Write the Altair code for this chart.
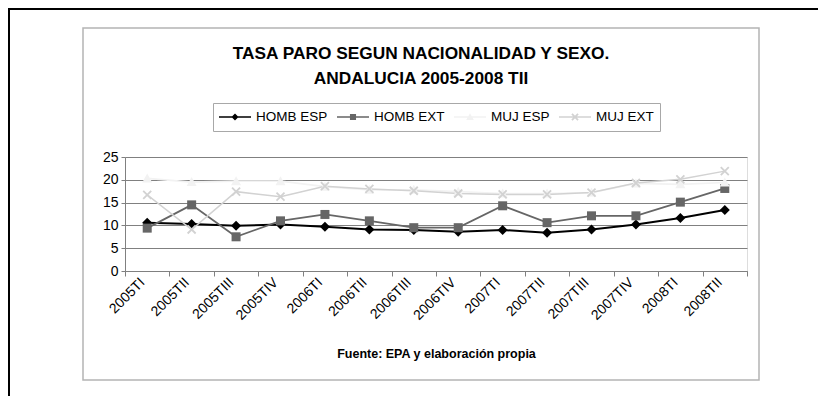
import altair as alt
import pandas as pd

# ---------------- data ----------------
periodos = ["2005TI", "2005TII", "2005TIII", "2005TIV",
            "2006TI", "2006TII", "2006TIII", "2006TIV",
            "2007TI", "2007TII", "2007TIII", "2007TIV",
            "2008TI", "2008TII"]
series = ["HOMB ESP", "HOMB EXT", "MUJ ESP", "MUJ EXT"]

homb_esp = [10.6, 10.3, 9.9, 10.2, 9.7, 9.1, 9.0, 8.6, 9.0, 8.4, 9.1, 10.2, 11.6, 13.4]
homb_ext = [9.4, 14.5, 7.5, 11.0, 12.4, 11.0, 9.5, 9.5, 14.3, 10.6, 12.1, 12.1, 15.1, 18.1]
muj_esp = [20.3, 19.5, 19.7, 19.7, 18.5, 17.8, 17.8, 17.4, 17.0, 17.0, 17.2, 19.2, 19.0, 19.4]
muj_ext = [16.7, 9.1, 17.4, 16.3, 18.6, 18.0, 17.6, 17.0, 16.8, 16.8, 17.2, 19.3, 20.1, 21.9]

y_ticks = [0, 5, 10, 15, 20, 25]

titulo = ["TASA PARO SEGUN NACIONALIDAD Y SEXO.", "ANDALUCIA 2005-2008 TII"]
fuente = "Fuente: EPA y elaboración propia"

# ---------------- styles ----------------
colores = ["#000000", "#666666", "#f2f2f2", "#d2d2d2"]
anchos = [2, 1.5, 2, 1.5]
FONT = "Liberation Sans"

# marker paths (filled polygons)
marker_paths = [
    "M0,-1L1,0L0,1L-1,0Z",
    "M-0.9,-0.9H0.9V0.9H-0.9Z",
    "M0,-1L1,0.8H-1Z",
    "M-0.67,-0.93L0.93,0.67L0.67,0.93L-0.93,-0.67Z"
    "M0.93,-0.67L-0.67,0.93L-0.93,0.67L0.67,-0.93Z",
]
line_seg = "M-1,-0.05H1V0.05H-1Z"
legend_paths = [
    line_seg + "M0,-0.22L0.22,0L0,0.22L-0.22,0Z",
    line_seg + "M-0.19,-0.19H0.19V0.19H-0.19Z",
    line_seg + "M0,-0.24L0.24,0.18H-0.24Z",
    line_seg + "M-0.15,-0.23L0.23,0.15L0.15,0.23L-0.23,-0.15Z"
               "M0.23,-0.15L-0.15,0.23L-0.23,0.15L0.15,-0.23Z",
]

rows = []
for s, vals in zip(series, [homb_esp, homb_ext, muj_esp, muj_ext]):
    for p, v in zip(periodos, vals):
        rows.append({"periodo": p, "serie": s, "valor": v})
df = pd.DataFrame(rows)

x_enc = alt.X(
    "periodo:N", sort=periodos, bandPosition=0.5,
    scale=alt.Scale(type="band", paddingInner=0, paddingOuter=0),
    axis=alt.Axis(
        title=fuente, labelAngle=-45, labelAlign="right", labelBaseline="middle",
        labelFont=FONT, labelFontSize=14, labelColor="black", labelPadding=4,
        labelOffset=-5,
        labelOverlap=False, tickBand="extent", tickSize=5, tickColor="#808080",
        domainColor="#808080", titleFont=FONT, titleFontSize=12.5,
        titleFontWeight="bold", titleColor="black", titleY=86,
        titleBaseline="alphabetic",
    ),
)
y_enc = alt.Y(
    "valor:Q",
    scale=alt.Scale(domain=[0, 25], nice=False),
    axis=alt.Axis(
        title=None, values=y_ticks, labelFont=FONT, labelFontSize=14,
        labelColor="black", gridColor="#808080", gridWidth=1, tickSize=4,
        tickColor="#808080", domainColor="#808080", labelPadding=3,
    ),
)

color_scale = alt.Scale(domain=series, range=colores)

lines = alt.Chart(df).mark_line().encode(
    x=x_enc, y=y_enc,
    color=alt.Color("serie:N", scale=color_scale, legend=None),
    strokeWidth=alt.StrokeWidth("serie:N", scale=alt.Scale(domain=series, range=anchos), legend=None),
)

points = alt.Chart(df).mark_point(filled=True, size=100, opacity=1).encode(
    x=x_enc, y=y_enc,
    color=alt.Color("serie:N", scale=color_scale, legend=None),
    shape=alt.Shape("serie:N", scale=alt.Scale(domain=series, range=marker_paths), legend=None),
)

leg = dict(
    title=None, orient="none", legendX=88, legendY=-54, direction="horizontal",
    symbolSize=1024, symbolOpacity=1, symbolStrokeWidth=0, clipHeight=16,
    labelFont=FONT, labelFontSize=13.5, labelColor="black", labelOffset=5,
    columnPadding=9, padding=6, strokeColor="#a8a8a8", fillColor="white",
    labelLimit=200,
)
legend_layer = alt.Chart(df).mark_point(filled=True, size=1024, opacity=0).encode(
    x=x_enc, y=y_enc,
    color=alt.Color("serie:N", scale=color_scale, legend=alt.Legend(**leg)),
    shape=alt.Shape("serie:N", scale=alt.Scale(domain=series, range=legend_paths),
                    legend=alt.Legend(**leg)),
)

frame_df = pd.DataFrame({"k": [0]})
inner_box = alt.Chart(frame_df).mark_rect(fillOpacity=0, stroke="#b4b4b4", strokeWidth=1.5).encode(
    x=alt.value(-42), x2=alt.value(634), y=alt.value(-129), y2=alt.value(223)
)
outer_v = alt.Chart(frame_df).mark_rule(color="black", strokeWidth=2).encode(
    x=alt.value(-116), y=alt.value(-149), y2=alt.value(239)
)
outer_h = alt.Chart(frame_df).mark_rule(color="black", strokeWidth=2).encode(
    x=alt.value(-117), x2=alt.value(693), y=alt.value(-148)
)

chart = alt.layer(inner_box, lines, points, legend_layer, outer_v, outer_h).resolve_scale(
    color="independent", shape="independent", strokeWidth="independent"
).properties(
    width=622, height=114,
    padding={"left": 117, "top": 149, "right": 71, "bottom": 125},
    autosize=alt.AutoSizeParams(type="none"),
    title=alt.TitleParams(
        text=titulo, anchor="middle", frame="group", dx=-15, dy=80, offset=0,
        font=FONT, fontSize=17.3, fontWeight="bold", color="black", lineHeight=25,
    ),
).configure_view(
    fill="#c0c0c0", stroke="#808080", strokeWidth=1.2
).configure(background="white")

chart.save("out.html", embed_options={"renderer": "svg", "actions": False})
